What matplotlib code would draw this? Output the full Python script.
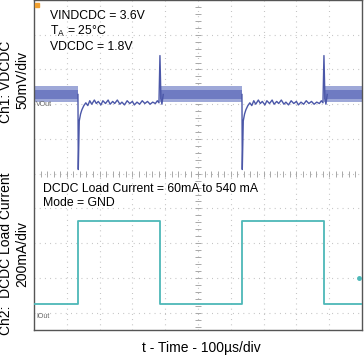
import numpy as np
import matplotlib.pyplot as plt

plt.rcParams['font.family'] = ['Liberation Sans', 'DejaVu Sans']
plt.rcParams['mathtext.fontset'] = 'custom'
plt.rcParams['mathtext.rm'] = 'Liberation Sans'

# time axis: 100 us/div, screen spans -500..500 us
# Ch2: load current (mA), 200 mA/div
i_times = [-500, -366, -366, -116, -116, 134, 134, 383, 383, 500]
i_load = [60, 60, 540, 540, 60, 60, 540, 540, 60, 60]
ch2_offset = -4.05  # divisions

# Ch1: VDCDC deviation (mV), 50 mV/div, relative to light-load level
ch1_offset = 2.28  # divisions
# one load-step response, time relative to the rising current edge (us)
step_t = [0, 1, 4, 8, 12, 18, 24, 30, 36, 42, 50, 56, 62, 70, 76, 84, 92, 98,
          106, 112, 120, 128, 134, 142, 150, 158, 166, 172, 180, 188, 196,
          204, 212, 220, 228, 236, 242, 247, 250, 253, 256, 260]
step_mv = [0, -108, -38, -28, -22, -16, -12, -16, -9, -14, -8, -13, -10, -15,
           -9, -13, -8, -14, -10, -13, -8, -14, -11, -15, -9, -13, -10, -15,
           -11, -14, -9, -13, -10, -14, -11, -13, -9, -12, 56, -6, -14, 0]
step_starts = [-366, 134]
# light-load PFM ripple band (mV)
band_spans = [(-500, -366), (-116, 134), (383, 500)]
band_outer = 11.5
band_inner = 6.5

blue = '#4b57a8'
teal = '#4db8b8'

fig = plt.figure(figsize=(3.64, 3.56), dpi=100)
ax = fig.add_axes([34 / 364, 26 / 356, 328 / 364, 330 / 356])
ax.set_xlim(-500, 500)
ax.set_ylim(-4.5, 5)

# graticule
ax.set_xticks(np.arange(-400, 500, 100))
ax.set_yticks(np.arange(-4, 5, 1))
ax.tick_params(length=0, labelbottom=False, labelleft=False)
ax.grid(True, color='#bdbdbd', linewidth=0.8, linestyle=(0, (0.8, 3.9)))
mx = np.arange(-480, 500, 20)
my = np.arange(-4.4, 5, 0.2)
ax.plot(mx, np.zeros(len(mx)), '|', color='#a8a8a8', ms=4, mew=0.7)
ax.plot(np.zeros(len(my)), my, '_', color='#a8a8a8', ms=4, mew=0.7)
for s in ax.spines.values():
    s.set_color('#555555')
    s.set_linewidth(1.0)

# Ch1 band
for t0, t1 in band_spans:
    ax.fill_between([t0, t1], ch1_offset - band_outer / 50, ch1_offset + band_outer / 50,
                    color='#9ea8d8', lw=0, zorder=2)
    ax.fill_between([t0, t1], ch1_offset - band_inner / 50, ch1_offset + band_inner / 50,
                    color='#6f7bc2', lw=0, zorder=2)
# Ch1 load-step responses
for t0 in step_starts:
    ax.plot(np.array(step_t) + t0, ch1_offset + np.array(step_mv) / 50,
            color=blue, lw=1.0, zorder=3)

# Ch2
ax.plot(i_times, ch2_offset + np.array(i_load) / 200, color=teal, lw=1.3, zorder=3)
ax.plot([490], [-2.99], 'o', color=teal, ms=2.5, zorder=3)
ax.plot([-490], [4.85], 's', color='#f0a030', ms=3.5, zorder=3)

def px(x, y):
    return x / 364, 1 - y / 356

fs = 8.8
fig.text(*px(50, 16), 'VINDCDC = 3.6V', fontsize=fs, va='center')
fig.text(*px(50, 31), r'T$_\mathrm{A}$ = 25°C', fontsize=fs, va='center')
fig.text(*px(50, 47), 'VDCDC = 1.8V', fontsize=fs, va='center')
fig.text(*px(43, 189), 'DCDC Load Current = 60mA to 540 mA', fontsize=fs, va='center')
fig.text(*px(43, 203), 'Mode = GND', fontsize=fs, va='center')
fig.text(*px(36, 104), 'VOut', fontsize=5, color='#666666', va='center')
fig.text(*px(36, 316), 'IOut', fontsize=5, color='#666666', va='center')

fig.text(*px(6, 82), 'Ch1: VDCDC', fontsize=10, rotation=90, ha='center', va='center')
fig.text(*px(22, 80), '50mV/div', fontsize=10, rotation=90, ha='center', va='center')
fig.text(*px(6, 254), 'Ch2:  DCDC Load Current', fontsize=10, rotation=90, ha='center', va='center')
fig.text(*px(22, 254), '200mA/div', fontsize=10, rotation=90, ha='center', va='center')
fig.text(*px(201, 348), 't - Time - 100µs/div', fontsize=10, ha='center', va='center')

fig.savefig('out.png', dpi=100)
